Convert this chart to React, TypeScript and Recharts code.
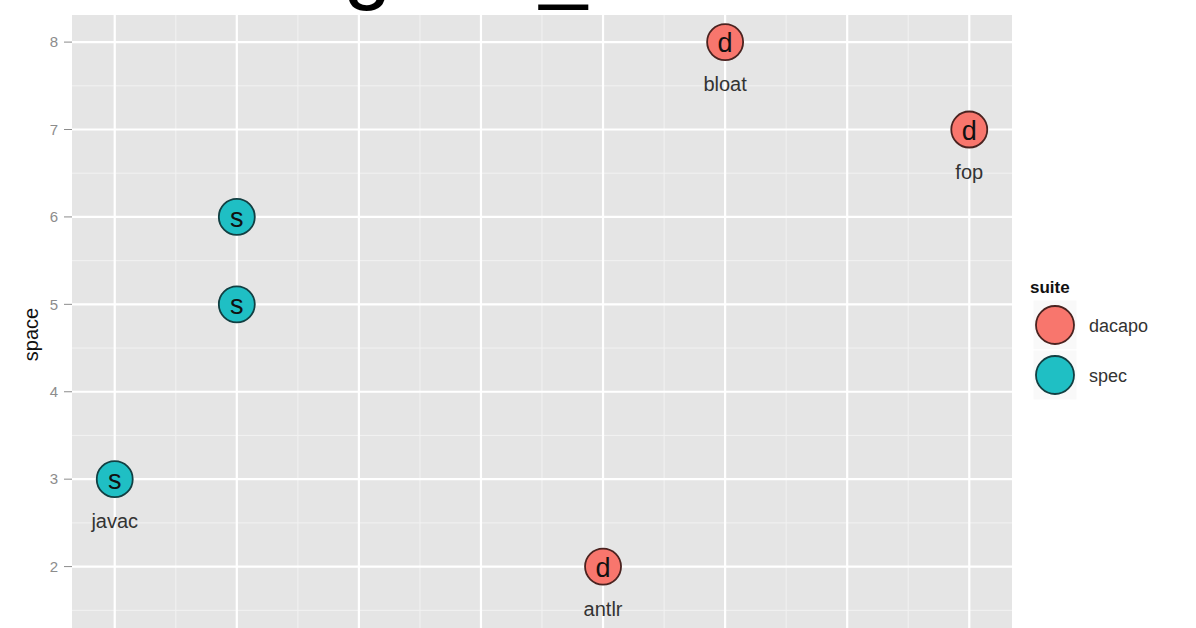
import React from 'react';
import { ScatterChart, Scatter, XAxis, YAxis, CartesianGrid, Legend, Label } from 'recharts';

// ---- data ----
const suites = ['dacapo', 'spec'];
const suiteColors = ['#F8766D', '#1FBFC4'];
const suiteStrokes = ['#4a2320', '#123f42'];
const suiteLetters = ['d', 's'];

const dacapoTime = [5, 6, 8];
const dacapoSpace = [2, 8, 7];
const dacapoNames = ['antlr', 'bloat', 'fop'];

const specTime = [1, 2, 2];
const specSpace = [3, 6, 5];
const specNames = ['javac', '', ''];

const xTicks = [1, 2, 3, 4, 5, 6, 7, 8];
const yTicks = [2, 3, 4, 5, 6, 7, 8];
const xMinor = [1.5, 2.5, 3.5, 4.5, 5.5, 6.5, 7.5];
const yMinor = [1.5, 2.5, 3.5, 4.5, 5.5, 6.5, 7.5];
const xDomain = [0.65, 8.35];
const yDomain = [1, 8.31];

const titleText = 'Integrate_results';
const yLabel = 'space';
const legendTitle = 'suite';

const FONT = '"Liberation Sans", Arial, Helvetica, sans-serif';

const toRows = (t: number[], s: number[], n: string[]) =>
  t.map((v, i) => ({ time: v, space: s[i], name: n[i] }));

const dacapoData = toRows(dacapoTime, dacapoSpace, dacapoNames);
const specData = toRows(specTime, specSpace, specNames);

const makeShape = (color: string, stroke: string, letter: string) => (props: any) => {
  const { cx, cy, payload } = props;
  return (
    <g>
      <circle cx={cx} cy={cy} r={18} fill={color} stroke={stroke} strokeWidth={1.8} />
      <text x={cx} y={cy + 10} textAnchor="middle" fontSize={27} fill="#111" fontFamily={FONT}>
        {letter}
      </text>
      {payload && payload.name ? (
        <text x={cx} y={cy + 49} textAnchor="middle" fontSize={20} fill="#333" fontFamily={FONT}>
          {payload.name}
        </text>
      ) : null}
    </g>
  );
};

const renderLegend = (props: any) => {
  const payload = props.payload || [];
  return (
    <svg width={174} height={130} style={{ display: 'block' }}>
      <text x={8} y={21} fontSize={17} fontWeight="bold" fill="#111" fontFamily={FONT}>
        {legendTitle}
      </text>
      {payload.map((entry: any, i: number) => {
        const cy = 53 + i * 50;
        const idx = suites.indexOf(entry.value);
        const col = idx >= 0 ? suiteColors[idx] : entry.color;
        const st = idx >= 0 ? suiteStrokes[idx] : '#333';
        return (
          <g key={entry.value}>
            <rect x={11} y={cy - 25} width={44} height={50} fill="#F9F9F9" stroke="#fff" />
            <circle cx={33} cy={cy} r={19} fill={col} stroke={st} strokeWidth={1.8} />
            <text x={67} y={cy + 7} fontSize={18} fill="#333" fontFamily={FONT}>
              {entry.value}
            </text>
          </g>
        );
      })}
    </svg>
  );
};

export default function App() {
  return (
    <div
      style={{
        position: 'absolute',
        left: 0,
        top: 0,
        width: 1196,
        height: 628,
        overflow: 'hidden',
        background: '#fff',
        fontFamily: FONT,
      }}
    >
      <div
        style={{
          position: 'absolute',
          left: 200,
          top: -80,
          fontSize: 86,
          lineHeight: '86px',
          whiteSpace: 'nowrap',
          color: '#000',
          fontFamily: FONT,
        }}
      >
        {titleText}
      </div>
      <div style={{ position: 'absolute', left: 0, top: 0 }}>
        <ScatterChart width={1196} height={700} margin={{ top: 15, right: 10, bottom: 46, left: 0 }}>
          <CartesianGrid
            fill="#E5E5E5"
            stroke="#F2F2F2"
            strokeWidth={1}
            horizontalValues={yMinor}
            verticalValues={xMinor}
          />
          <CartesianGrid
            stroke="#FFFFFF"
            strokeWidth={2.2}
            horizontalValues={yTicks}
            verticalValues={xTicks}
          />
          <XAxis dataKey="time" type="number" domain={xDomain} ticks={xTicks} hide allowDataOverflow />
          <YAxis
            dataKey="space"
            type="number"
            domain={yDomain}
            ticks={yTicks}
            width={72}
            allowDataOverflow
            axisLine={false}
            tickSize={8}
            tickMargin={6}
            tickLine={{ stroke: '#8c8c8c' }}
            tick={{ fill: '#8c8c8c', fontSize: 15, fontFamily: FONT }}
          >
            <Label
              content={(p: any) => {
                const vb = p.viewBox || { y: 15, height: 639 };
                const cy = vb.y + vb.height / 2;
                return (
                  <text
                    transform={`translate(38, ${cy}) rotate(-90)`}
                    textAnchor="middle"
                    fontSize={20}
                    fill="#111"
                    fontFamily={FONT}
                  >
                    {yLabel}
                  </text>
                );
              }}
            />
          </YAxis>
          <Legend
            layout="vertical"
            align="right"
            verticalAlign="middle"
            content={renderLegend}
            wrapperStyle={{ left: 1022, top: 272, right: 'auto', width: 174, height: 130 }}
          />
          <Scatter
            name={suites[0]}
            data={dacapoData}
            fill={suiteColors[0]}
            shape={makeShape(suiteColors[0], suiteStrokes[0], suiteLetters[0])}
            isAnimationActive={false}
          />
          <Scatter
            name={suites[1]}
            data={specData}
            fill={suiteColors[1]}
            shape={makeShape(suiteColors[1], suiteStrokes[1], suiteLetters[1])}
            isAnimationActive={false}
          />
        </ScatterChart>
      </div>
    </div>
  );
}
